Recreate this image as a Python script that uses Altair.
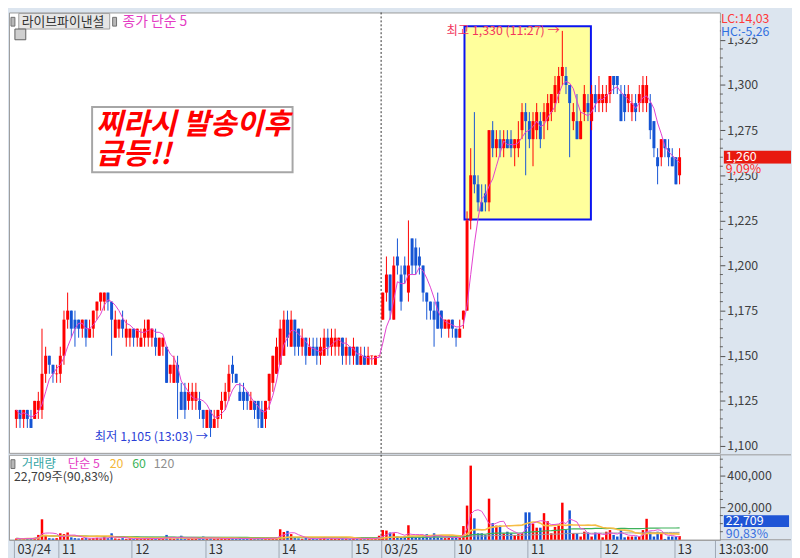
import altair as alt
import numpy as np
import pandas as pd

# ---------------- values (3-minute candles) ----------------
# day 1 = 03/24 10:24 ... 15:18 and the 15:30 close, day 2 = 03/25 09:00 ... 13:03
D1_OPEN = [1115, 1120, 1115, 1120, 1115, 1115, 1120, 1120, 1140, 1150,
           1145, 1140, 1140, 1150, 1170, 1175, 1170, 1170, 1165, 1170,
           1160, 1165, 1175, 1180, 1180, 1185, 1180, 1160, 1165, 1170,
           1160, 1160, 1165, 1160, 1155, 1160, 1160, 1160, 1160, 1150,
           1155, 1155, 1140, 1135, 1145, 1130, 1130, 1125, 1125, 1125,
           1125, 1120, 1110, 1120, 1110, 1115, 1120, 1125, 1130, 1145,
           1140, 1130, 1130, 1130, 1120, 1125, 1125, 1120, 1115, 1125,
           1135, 1140, 1145, 1150, 1170, 1155, 1170, 1165, 1155, 1160,
           1150, 1155, 1155, 1150, 1150, 1160, 1155, 1155, 1155, 1160,
           1150, 1155, 1150, 1155, 1145, 1150, 1145, 1150, 1145, 1150]
D1_HIGH = [1120, 1120, 1120, 1120, 1120, 1125, 1130, 1165, 1155, 1150,
           1145, 1145, 1155, 1175, 1185, 1175, 1175, 1170, 1170, 1170,
           1170, 1175, 1180, 1185, 1185, 1185, 1180, 1175, 1170, 1175,
           1170, 1165, 1165, 1165, 1165, 1170, 1170, 1165, 1165, 1160,
           1160, 1155, 1145, 1150, 1150, 1135, 1135, 1135, 1135, 1135,
           1130, 1120, 1120, 1120, 1120, 1120, 1130, 1135, 1145, 1150,
           1140, 1135, 1135, 1130, 1130, 1125, 1125, 1125, 1125, 1140,
           1150, 1160, 1170, 1175, 1175, 1175, 1170, 1165, 1165, 1160,
           1160, 1160, 1160, 1160, 1165, 1165, 1165, 1165, 1160, 1160,
           1160, 1155, 1160, 1155, 1155, 1155, 1155, 1150, 1150, 1150]
D1_LOW = [1110, 1110, 1110, 1110, 1110, 1115, 1115, 1115, 1135, 1140,
          1135, 1135, 1135, 1145, 1165, 1160, 1155, 1160, 1160, 1155,
          1160, 1160, 1170, 1175, 1175, 1175, 1150, 1160, 1160, 1160,
          1155, 1155, 1155, 1155, 1155, 1155, 1155, 1155, 1150, 1150,
          1150, 1135, 1135, 1135, 1115, 1120, 1115, 1120, 1120, 1120,
          1115, 1110, 1110, 1105, 1110, 1110, 1115, 1120, 1125, 1135,
          1135, 1125, 1120, 1120, 1120, 1115, 1110, 1110, 1110, 1120,
          1130, 1140, 1145, 1150, 1155, 1155, 1150, 1150, 1150, 1145,
          1150, 1150, 1145, 1145, 1150, 1150, 1150, 1150, 1150, 1145,
          1145, 1145, 1145, 1145, 1145, 1145, 1145, 1145, 1145, 1150]
D1_CLOSE = [1120, 1115, 1120, 1115, 1110, 1125, 1125, 1140, 1150, 1145,
            1140, 1140, 1150, 1170, 1175, 1165, 1165, 1165, 1170, 1160,
            1165, 1175, 1180, 1185, 1185, 1180, 1170, 1170, 1170, 1165,
            1165, 1165, 1160, 1165, 1160, 1165, 1170, 1165, 1155, 1160,
            1160, 1135, 1145, 1145, 1135, 1120, 1120, 1130, 1130, 1130,
            1120, 1115, 1120, 1110, 1115, 1120, 1125, 1130, 1140, 1140,
            1135, 1125, 1125, 1125, 1125, 1120, 1115, 1110, 1125, 1140,
            1150, 1155, 1165, 1170, 1160, 1170, 1155, 1155, 1160, 1150,
            1155, 1150, 1150, 1155, 1160, 1155, 1160, 1160, 1160, 1150,
            1155, 1150, 1155, 1145, 1150, 1145, 1150, 1150, 1150, 1150]
D1_VOL_K = [8, 5, 6, 10, 8, 12, 30, 127, 30, 10,
            8, 10, 40, 35, 45, 15, 10, 8, 10, 12,
            8, 10, 12, 8, 15, 10, 40, 8, 6, 10,
            6, 8, 5, 8, 6, 10, 8, 6, 8, 10,
            8, 30, 8, 6, 10, 25, 8, 6, 8, 10,
            6, 20, 8, 10, 6, 8, 10, 6, 8, 12,
            6, 8, 5, 8, 6, 8, 10, 6, 8, 10,
            12, 15, 65, 48, 55, 35, 10, 8, 6, 10,
            6, 8, 5, 8, 15, 6, 8, 5, 6, 8,
            6, 5, 8, 6, 5, 12, 6, 5, 8, 25]

D2_OPEN = [1170, 1185, 1195, 1170, 1205, 1195, 1200, 1185, 1215, 1210,
           1205, 1200, 1185, 1180, 1175, 1180, 1175, 1165, 1165, 1170,
           1165, 1160, 1170, 1175, 1225, 1250, 1245, 1235, 1240, 1235,
           1275, 1265, 1270, 1265, 1270, 1270, 1265, 1265, 1275, 1285,
           1280, 1270, 1275, 1280, 1280, 1280, 1285, 1290, 1295, 1305,
           1305, 1300, 1280, 1280, 1270, 1285, 1290, 1280, 1295, 1290,
           1290, 1290, 1295, 1305, 1305, 1295, 1295, 1290, 1285, 1290,
           1290, 1290, 1290, 1290, 1280, 1260, 1260, 1270, 1265, 1260,
           1260, 1250]
D2_HIGH = [1185, 1205, 1195, 1205, 1215, 1200, 1205, 1225, 1215, 1215,
           1210, 1200, 1185, 1180, 1180, 1185, 1175, 1170, 1170, 1170,
           1165, 1170, 1175, 1230, 1265, 1285, 1250, 1245, 1245, 1275,
           1280, 1275, 1275, 1275, 1275, 1275, 1270, 1280, 1290, 1290,
           1285, 1285, 1290, 1285, 1290, 1295, 1295, 1305, 1310, 1330,
           1310, 1300, 1290, 1295, 1285, 1300, 1295, 1300, 1300, 1305,
           1300, 1300, 1305, 1305, 1305, 1300, 1300, 1300, 1295, 1295,
           1300, 1305, 1305, 1295, 1280, 1265, 1270, 1270, 1270, 1265,
           1260, 1265]
D2_LOW = [1170, 1180, 1170, 1170, 1195, 1175, 1190, 1180, 1195, 1195,
          1195, 1180, 1170, 1170, 1155, 1165, 1160, 1165, 1160, 1160,
          1155, 1160, 1165, 1175, 1220, 1240, 1230, 1230, 1230, 1230,
          1260, 1260, 1260, 1260, 1265, 1260, 1255, 1260, 1270, 1250,
          1265, 1255, 1270, 1265, 1270, 1275, 1280, 1285, 1290, 1300,
          1295, 1260, 1275, 1270, 1270, 1280, 1280, 1275, 1285, 1285,
          1285, 1285, 1290, 1295, 1295, 1280, 1280, 1285, 1280, 1280,
          1285, 1285, 1285, 1270, 1260, 1245, 1255, 1260, 1255, 1255,
          1245, 1245]
D2_CLOSE = [1185, 1195, 1175, 1200, 1200, 1180, 1195, 1200, 1200, 1200,
            1200, 1185, 1180, 1175, 1170, 1165, 1165, 1170, 1170, 1165,
            1160, 1165, 1175, 1225, 1250, 1245, 1235, 1230, 1235, 1275,
            1265, 1270, 1265, 1270, 1265, 1265, 1270, 1270, 1285, 1280,
            1270, 1280, 1285, 1270, 1285, 1290, 1295, 1300, 1305, 1310,
            1300, 1290, 1285, 1270, 1280, 1295, 1285, 1295, 1290, 1295,
            1295, 1295, 1305, 1300, 1300, 1280, 1285, 1295, 1290, 1285,
            1295, 1300, 1300, 1275, 1265, 1255, 1270, 1265, 1260, 1255,
            1245, 1260]
D2_VOL_K = [60, 57, 45, 40, 20, 15, 20, 90, 20, 15,
            15, 20, 35, 15, 40, 15, 12, 10, 12, 15,
            20, 12, 85, 212, 460, 133, 40, 40, 30, 255,
            103, 88, 88, 40, 50, 40, 30, 35, 40, 170,
            170, 100, 75, 75, 165, 115, 40, 80, 90, 230,
            60, 182, 40, 40, 20, 50, 45, 20, 45, 40,
            15, 50, 60, 30, 20, 60, 15, 20, 20, 20,
            20, 60, 130, 50, 20, 50, 40, 5, 20, 20,
            20, 22.709]

# time axis: candle-index positions of the separators and their labels
TIME_TICK_POS = [-0.658, 11.5, 31.5, 51.5, 71.5, 91.5, 99.5, 119.5, 139.5, 159.5, 179.5, 190.66]
TIME_TICK_LABELS = ["03/24", "11", "12", "13", "14", "15", "03/25", "10", "11", "12", "13", "13:03:00"]
PRICE_TICKS = list(range(1100, 1326, 25))
PRICE_MINOR = [p for p in range(1100, 1340, 5) if p % 25]
VOL_TICKS = [200000, 400000]
VOL_MINOR = [50000, 100000, 150000, 250000, 300000, 350000, 450000, 500000]
DAY_SPLIT = [99.55]
BOX_X = [122.3, 156.8]
BOX_P = [1225.5, 1332.6]
HIGH_NOTE = [149, 1330, "최고 1,330 (11:27) →"]
LOW_NOTE = [53, 1105, "최저 1,105 (13:03) →"]
LAST_PRICE = 1260

# ---------------- layout ----------------
W, HP, HV, AX, BAND = 720, 446, 86, 72, 18
BG = "#dce5ef"
UP, DOWN = "#ff0000", "#1454d4"
FONT = "Noto Sans CJK KR"
X_DOM = [TIME_TICK_POS[0], TIME_TICK_POS[-1]]
P_DOM = [1096.2, 1340.2]
V_DOM = [0, 527000]


def fx(x):
    return x * W / 727


def fyp(y):
    return y * HP / 452


def fyv(y):
    return (y - 453) * HV / 87


op = D1_OPEN + D2_OPEN
hi = D1_HIGH + D2_HIGH
lo = D1_LOW + D2_LOW
cl = D1_CLOSE + D2_CLOSE
vo = [v * 1000 for v in D1_VOL_K + D2_VOL_K]
df = pd.DataFrame({"idx": range(len(op)), "open": op, "high": hi, "low": lo, "close": cl, "vol": vo})
prev = df["close"].shift(1).fillna(df["open"])
df["dir"] = np.where(df.close > df.open, "up",
                     np.where(df.close < df.open, "down", np.where(df.close >= prev, "up", "down")))
df["ma5"] = df["close"].rolling(5, min_periods=1).mean()
for n in (5, 20, 60, 120):
    df[f"vma{n}"] = df["vol"].rolling(n, min_periods=1).mean()

color = alt.Color("dir:N", scale=alt.Scale(domain=["up", "down"], range=[UP, DOWN]), legend=None)
xsc = alt.Scale(domain=X_DOM, nice=False, zero=False)
psc = alt.Scale(domain=P_DOM, nice=False, zero=False)
vsc = alt.Scale(domain=V_DOM, nice=False, zero=False)

price_axis = alt.Axis(orient="right", values=PRICE_TICKS, format=",d", title=None, grid=False,
                      tickSize=5, tickColor="#505050", domain=False, labelPadding=2,
                      labelFontSize=12.5, labelColor="#404040", labelFont=FONT,
                      labelFlush=False, labelOverlap=False, labelBaseline="middle",
                      minExtent=AX, maxExtent=AX)
vol_axis = alt.Axis(orient="right", values=VOL_TICKS, format=",d", title=None, grid=False,
                    tickSize=5, tickColor="#505050", domain=False, labelPadding=2,
                    labelFontSize=12.5, labelColor="#404040", labelFont=FONT,
                    labelFlush=False, labelOverlap=False, labelBaseline="middle",
                    minExtent=AX, maxExtent=AX)
expr = f"'{TIME_TICK_LABELS[-1]}'"
for k in range(len(TIME_TICK_POS) - 2, -1, -1):
    mid = (TIME_TICK_POS[k] + TIME_TICK_POS[k + 1]) / 2
    expr = f"datum.value < {mid} ? '{TIME_TICK_LABELS[k]}' : ({expr})"
time_axis = alt.Axis(orient="bottom", values=TIME_TICK_POS, labelExpr=expr, title=None, grid=False,
                     tickSize=BAND, tickColor="#9ea8b4", domain=True, domainColor="#9a9a9a",
                     labelAlign="left", labelBaseline="middle", labelPadding=-BAND / 2 + 1,
                     labelOffset=3, labelFontSize=13, labelColor="#333333", labelFont=FONT,
                     labelFlush=False, labelOverlap=False, minExtent=BAND, maxExtent=BAND)


def PX(f):
    return alt.X(f"{f}:Q", scale=xsc, axis=None)


def PY(f):
    return alt.Y(f"{f}:Q", scale=psc, axis=price_axis)


def VX(f):
    return alt.X(f"{f}:Q", scale=xsc, axis=time_axis)


def VY(f):
    return alt.Y(f"{f}:Q", scale=vsc, axis=vol_axis)


one = pd.DataFrame({"k": [0]})


def prect(x1, x2, y1, y2, **kw):
    return alt.Chart(one).mark_rect(**kw).encode(
        x=alt.value(x1), x2=alt.value(x2), y=alt.value(y1), y2=alt.value(y2))


def ptext(txt, x, y, **kw):
    base = dict(align="left", baseline="middle", font=FONT, fontSize=12.5)
    base.update(kw)
    return alt.Chart(one).mark_text(text=txt, **base).encode(x=alt.value(x), y=alt.value(y))


# ---------------- price panel ----------------
box = alt.Chart(pd.DataFrame({"x1": [BOX_X[0]], "x2": [BOX_X[1]], "p1": [BOX_P[0]], "p2": [BOX_P[1]]})) \
    .mark_rect(fill="#ffff9c", stroke="#0a14f0", strokeWidth=2) \
    .encode(x=PX("x1"), x2="x2", y=PY("p1"), y2="p2")
split_p = alt.Chart(pd.DataFrame({"x": DAY_SPLIT})).mark_rule(color="#303030", strokeDash=[2, 2]) \
    .encode(x=PX("x"))
wick = alt.Chart(df).mark_rule(strokeWidth=1).encode(x=PX("idx"), y=PY("low"), y2="high", color=color)
body = alt.Chart(df).mark_bar(size=3).encode(x=PX("idx"), y=PY("open"), y2="close", color=color)
doji = alt.Chart(df[df.open == df.close]).mark_tick(orient="horizontal", size=3, thickness=1) \
    .encode(x=PX("idx"), y=PY("close"), color=color)
ma = alt.Chart(df).mark_line(color="#e23fcf", strokeWidth=1).encode(x=PX("idx"), y=PY("ma5"))
notes_df = pd.DataFrame({"idx": [HIGH_NOTE[0] - 0.7, LOW_NOTE[0] - 0.7],
                         "p": [HIGH_NOTE[1], LOW_NOTE[1]],
                         "t": [HIGH_NOTE[2], LOW_NOTE[2]],
                         "c": ["#f2365c", "#2b3fd6"]})
notes = alt.Chart(notes_df).mark_text(align="right", baseline="middle", font=FONT, fontSize=12.5) \
    .encode(x=PX("idx"), y=PY("p"), text="t:N", color=alt.Color("c:N", scale=None))
minor_p = alt.Chart(pd.DataFrame({"p": PRICE_MINOR})).mark_rule(color="#606060") \
    .encode(x=alt.value(W), x2=alt.value(W + 3), y=PY("p"))

last_df = pd.DataFrame({"p": [LAST_PRICE]})
last_box = alt.Chart(last_df).mark_tick(orient="horizontal", size=68, thickness=13, color="#e8190f", opacity=1) \
    .encode(x=alt.value(W + 38), y=PY("p"))
last_cover = alt.Chart(last_df).mark_tick(orient="horizontal", size=68, thickness=9, color=BG, opacity=1,
                                          yOffset=11) \
    .encode(x=alt.value(W + 38), y=PY("p"))
last_txt = alt.Chart(last_df).mark_text(text="1,260", align="left", baseline="middle", font=FONT,
                                        fontSize=12.5, color="white") \
    .encode(x=alt.value(W + 6), y=PY("p"))
last_pct = alt.Chart(last_df).mark_text(text="9,09%", align="left", baseline="middle", font=FONT,
                                        fontSize=12.5, color="#ff2a2a", dy=12) \
    .encode(x=alt.value(W + 6), y=PY("p"))

price_layers = [
    box, split_p, wick, body, doji, ma, notes, minor_p,
    prect(fx(85), fx(290), fyp(97), fyp(164), fill="white", stroke="#a6a6a6", strokeWidth=2),
    ptext("찌라시 발송이후", fx(89), fyp(116), fontSize=29.5, fontStyle="italic", fontWeight="bold", color="#ff0000"),
    ptext("급등!!", fx(89), fyp(146), fontSize=29.5, fontStyle="italic", fontWeight="bold", color="#ff0000"),
    prect(2, 6, fyp(5), fyp(14), fill="#b8b8b8", stroke="#707070", strokeWidth=1),
    prect(fx(10), fx(103), fyp(1), fyp(17), fill="#e6e6e6", stroke="#a0a0a0", strokeWidth=1),
    ptext("라이브파이낸셜", fx(13), fyp(9.5), fontSize=13, color="#333333"),
    prect(fx(106), fx(110), fyp(5), fyp(14), fill="#b8b8b8", stroke="#707070", strokeWidth=1),
    ptext("종가 단순 5", fx(116), fyp(9.5), fontSize=14, color="#e43cc4"),
    prect(6, 17, fyp(17), fyp(28), fill="#cfcfcf", stroke="#606060", strokeWidth=1),
    prect(W + 1, W + AX, 0, fyp(26), fill=BG),
    ptext("LC:14,03", W + 1, fyp(7), color="#ff3a3a"),
    ptext("HC:-5,26", W + 1, fyp(20), color="#2f6fe0"),
    last_box, last_cover, last_txt, last_pct,
]
price = alt.layer(*price_layers).properties(width=W, height=HP)

# ---------------- volume panel ----------------
split_v = alt.Chart(pd.DataFrame({"x": DAY_SPLIT})).mark_rule(color="#303030", strokeDash=[2, 2]) \
    .encode(x=VX("x"))
vbar = alt.Chart(df).mark_bar(size=2.5).encode(x=VX("idx"), y=VY("vol"), color=color)
vlines = []
for n, col, sw in [(120, "#a0a0a0", 1), (60, "#3cb15a", 1.2), (20, "#f6bd45", 1.6), (5, "#e64fd0", 1)]:
    vlines.append(alt.Chart(df).mark_line(color=col, strokeWidth=sw).encode(x=VX("idx"), y=VY(f"vma{n}")))
minor_v = alt.Chart(pd.DataFrame({"v": VOL_MINOR})).mark_rule(color="#606060") \
    .encode(x=alt.value(W), x2=alt.value(W + 3), y=VY("v"))

vol_layers = [
    split_v, vbar, *vlines, minor_v,
    prect(2, 6, fyv(458), fyv(467), fill="#b8b8b8", stroke="#707070", strokeWidth=1),
    ptext("거래량", fx(13), fyv(462), color="#36a6a6"),
    ptext("단순 5", fx(60), fyv(462), color="#e43cc4"),
    ptext("20", fx(103), fyv(462), color="#f4b73a"),
    ptext("60", fx(126), fyv(462), color="#3cb45a"),
    ptext("120", fx(148), fyv(462), color="#8e8e8e"),
    ptext("22,709주(90,83%)", fx(5), fyv(476), color="#404040"),
    alt.Chart(one).mark_rule(color="#9a9a9a").encode(x=alt.value(W), x2=alt.value(W + AX), y=alt.value(0)),
    alt.Chart(one).mark_rule(color="#9a9a9a").encode(x=alt.value(W), x2=alt.value(W + AX), y=alt.value(HV)),
    prect(W + 4, W + 70, fyv(515), fyv(527), fill="#1f55d6"),
    ptext("22,709", W + 6, fyv(521), color="white"),
    ptext("90,83%", W + 6, fyv(534), color="#3a70e0"),
]
volume = alt.layer(*vol_layers).properties(width=W, height=HV)

chart = alt.vconcat(price, volume, spacing=0).properties(background=BG, padding=0) \
    .configure_view(stroke="#9a9a9a", fill="white") \
    .configure_text(font=FONT)

chart.save("out.html", embed_options={"renderer": "svg", "actions": False})
